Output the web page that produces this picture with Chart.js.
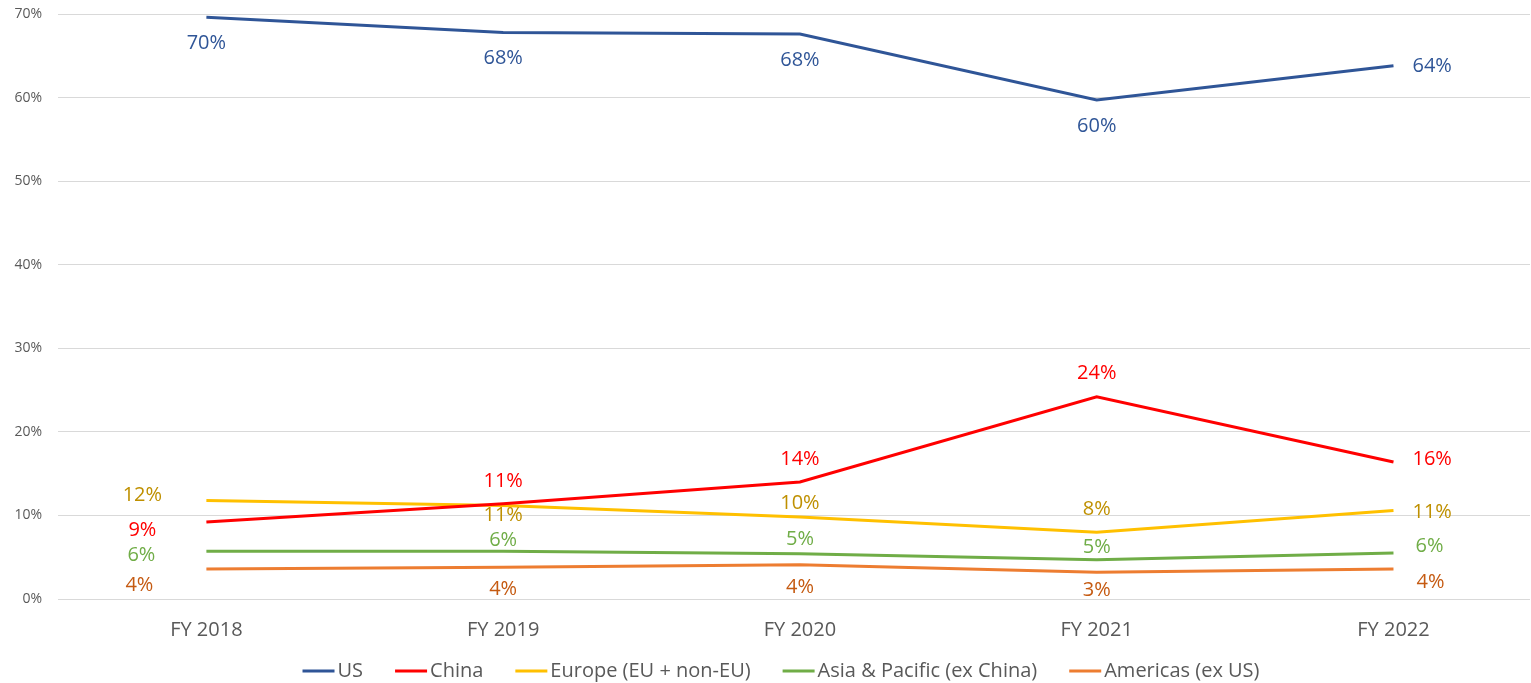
<!DOCTYPE html>
<html>
<head>
<meta charset="utf-8">
<script src="https://cdn.jsdelivr.net/npm/chart.js@4/dist/chart.umd.min.js"></script>
<style>
  html, body { margin: 0; padding: 0; background: #fff; }
  #wrap { width: 1531px; height: 683px; position: relative; }
</style>
</head>
<body>
<div id="wrap"><canvas id="c" width="1531" height="683"></canvas></div>
<script>
const categories = ['FY 2018', 'FY 2019', 'FY 2020', 'FY 2021', 'FY 2022'];
const seriesNames = ['US', 'China', 'Europe (EU + non-EU)', 'Asia & Pacific (ex China)', 'Americas (ex US)'];
const usValues = [69.6, 67.8, 67.6, 59.7, 63.8];
const chinaValues = [9.2, 11.4, 14.0, 24.2, 16.4];
const europeValues = [11.8, 11.2, 9.8, 8.0, 10.6];
const asiaValues = [5.7, 5.7, 5.4, 4.7, 5.5];
const americasValues = [3.6, 3.8, 4.1, 3.2, 3.6];
const yTicks = [0, 10, 20, 30, 40, 50, 60, 70];

const FONT = "'Open Sans', 'Liberation Sans', sans-serif";

function toPoints(vals) { return vals.map((v, i) => ({ x: i, y: v })); }

// label placement per point: [dx, dy, align] relative to the point (style only)
const datasets = [
  { label: seriesNames[0], data: toPoints(usValues), borderColor: '#2F5597', labelColor: '#2F5597',
    labelPlace: [[0,26,'c'],[0,26,'c'],[0,26,'c'],[0,26,'c'],[19,0,'l']] },
  { label: seriesNames[1], data: toPoints(chinaValues), borderColor: '#FF0000', labelColor: '#FF0000',
    labelPlace: [[-64,8,'c'],[0,-22,'c'],[0,-23,'c'],[0,-23,'c'],[19,-3,'l']] },
  { label: seriesNames[2], data: toPoints(europeValues), borderColor: '#FFC000', labelColor: '#BF9000',
    labelPlace: [[-64,-5,'c'],[0,10,'c'],[0,-14,'c'],[0,-23,'c'],[19,2,'l']] },
  { label: seriesNames[3], data: toPoints(asiaValues), borderColor: '#70AD47', labelColor: '#70AD47',
    labelPlace: [[-65,4,'c'],[0,-11,'c'],[0,-15,'c'],[0,-12,'c'],[22,-7,'l']] },
  { label: seriesNames[4], data: toPoints(americasValues), borderColor: '#ED7D31', labelColor: '#C55A11',
    labelPlace: [[-67,16,'c'],[0,22,'c'],[0,23,'c'],[0,18,'c'],[23,13,'l']] }
].map(d => Object.assign(d, {
  backgroundColor: d.borderColor,
  borderWidth: 3,
  pointRadius: 0,
  pointHoverRadius: 0,
  tension: 0,
  fill: false
}));

const labelPlugin = {
  id: 'pointLabels',
  afterDatasetsDraw(chart) {
    const ctx = chart.ctx;
    ctx.save();
    ctx.font = "20px " + FONT;
    ctx.textBaseline = 'middle';
    chart.data.datasets.forEach((ds, di) => {
      const meta = chart.getDatasetMeta(di);
      meta.data.forEach((pt, i) => {
        const v = ds.data[i].y;
        const txt = Math.round(v) + '%';
        const [dx, dy, al] = ds.labelPlace[i];
        ctx.fillStyle = ds.labelColor;
        ctx.textAlign = al === 'l' ? 'left' : 'center';
        ctx.fillText(txt, pt.x + dx, pt.y + dy);
      });
    });
    ctx.restore();
  }
};

const legendPlugin = {
  id: 'lineLegend',
  afterDraw(chart) {
    const ctx = chart.ctx;
    ctx.save();
    ctx.font = "20px " + FONT;
    const markW = 32, markGap = 3, itemGap = 32;
    const items = chart.data.datasets.map(ds => ({ text: ds.label, color: ds.borderColor, w: ctx.measureText(ds.label).width }));
    const total = items.reduce((s, it) => s + markW + markGap + it.w, 0) + itemGap * (items.length - 1);
    let x = 781 - total / 2;
    const y = 671;
    ctx.textBaseline = 'middle';
    ctx.textAlign = 'left';
    items.forEach(it => {
      ctx.fillStyle = it.color;
      ctx.fillRect(x, y - 1.5, markW, 3);
      x += markW + markGap;
      ctx.fillStyle = '#595959';
      ctx.fillText(it.text, x, y);
      x += it.w + itemGap;
    });
    ctx.restore();
  }
};

new Chart(document.getElementById('c'), {
  type: 'line',
  data: { datasets },
  plugins: [labelPlugin, legendPlugin],
  options: {
    responsive: false,
    animation: false,
    devicePixelRatio: 1,
    layout: { padding: { top: 14, right: 1, left: 0, bottom: 41 } },
    plugins: {
      tooltip: { enabled: false },
      legend: { display: false }
    },
    scales: {
      x: {
        type: 'linear',
        min: -0.5,
        max: 4.46,
        afterBuildTicks(scale) { scale.ticks = categories.map((c, i) => ({ value: i })); },
        afterFit(scale) { scale.height = 43; scale.paddingTop = 0; scale.paddingBottom = 0; },
        ticks: {
          color: '#595959',
          font: { family: FONT, size: 20 },
          padding: 19,
          maxRotation: 0,
          callback: (v) => categories[v] ?? ''
        },
        grid: { display: false, drawTicks: false },
        border: { display: false }
      },
      y: {
        min: 0,
        max: 70,
        afterBuildTicks(scale) { scale.ticks = yTicks.map(v => ({ value: v })); },
        afterFit(scale) { scale.width = 58; scale.paddingTop = 0; scale.paddingBottom = 0; },
        ticks: {
          color: '#595959',
          font: { family: FONT, size: 14 },
          padding: 16,
          callback: (v) => v + '%'
        },
        grid: { color: '#D9D9D9', lineWidth: 1, drawTicks: false },
        border: { display: false }
      }
    }
  }
});
</script>
</body>
</html>
